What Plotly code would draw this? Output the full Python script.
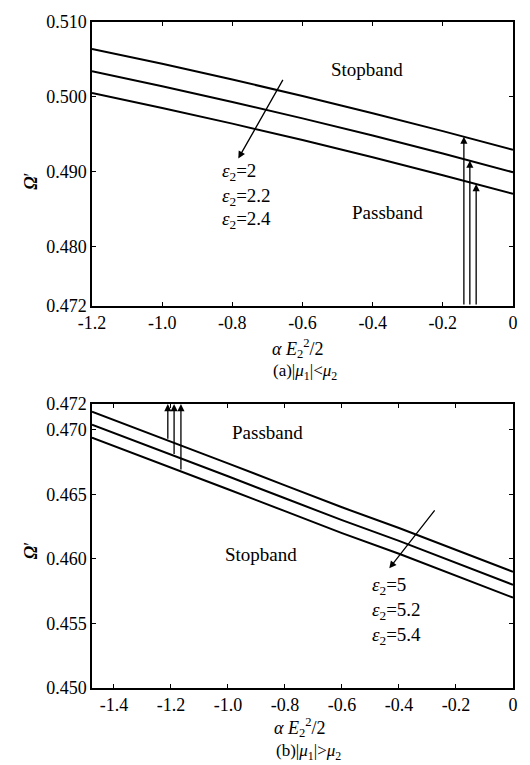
import numpy as np
import plotly.graph_objects as go

# ---------------- data ----------------
# Panel (a): |mu1| < mu2
xa = [-1.2, -1.0, -0.8, -0.6, -0.4, -0.2, 0.0]
ya_e20 = [0.5064, 0.5044, 0.5023, 0.5001, 0.4978, 0.4954, 0.4929]
ya_e22 = [0.5034, 0.5014, 0.4993, 0.4971, 0.4948, 0.4924, 0.4899]
ya_e24 = [0.5005, 0.4985, 0.4964, 0.4942, 0.4919, 0.4895, 0.4870]
a_arrow_x = [-0.140, -0.123, -0.105]          # vertical arrows (to each curve)
a_diag = [(-0.6535, 0.50245), (-0.783, 0.49173)]  # tail, head
a_xticks = [-1.2, -1.0, -0.8, -0.6, -0.4, -0.2, 0.0]
a_xticktext = ["-1.2", "-1.0", "-0.8", "-0.6", "-0.4", "-0.2", "0"]
a_yticks = [0.472, 0.480, 0.490, 0.500, 0.510]
a_yticktext = ["0.472", "0.480", "0.490", "0.500", "0.510"]

# Panel (b): |mu1| > mu2
xb = [-1.477, -1.2, -1.0, -0.8, -0.6, -0.4, -0.2, 0.0]
yb_e50 = [0.4714, 0.4691, 0.4674, 0.4657, 0.4640, 0.4624, 0.4607, 0.4590]
yb_e52 = [0.4704, 0.4681, 0.4664, 0.4647, 0.4630, 0.4614, 0.4597, 0.4580]
yb_e54 = [0.4694, 0.4671, 0.4654, 0.4637, 0.4620, 0.4604, 0.4587, 0.4570]
b_arrow_x = [-1.211, -1.189, -1.165]
b_diag = [(-0.2707, 0.46387), (-0.434, 0.45927)]
b_xticks = [-1.4, -1.2, -1.0, -0.8, -0.6, -0.4, -0.2, 0.0]
b_xticktext = ["-1.4", "-1.2", "-1.0", "-0.8", "-0.6", "-0.4", "-0.2", "0"]
b_yticks = [0.450, 0.455, 0.460, 0.465, 0.470, 0.472]
b_yticktext = ["0.450", "0.455", "0.460", "0.465", "0.470", "0.472"]

a_labels = ["<i>ε</i><sub>2</sub>=2", "<i>ε</i><sub>2</sub>=2.2", "<i>ε</i><sub>2</sub>=2.4"]
b_labels = ["<i>ε</i><sub>2</sub>=5", "<i>ε</i><sub>2</sub>=5.2", "<i>ε</i><sub>2</sub>=5.4"]

FONT = "Liberation Serif, Times New Roman, serif"
LINE = dict(color="black", width=2)

fig = go.Figure()
for ys in (ya_e20, ya_e22, ya_e24):
    fig.add_trace(go.Scatter(x=xa, y=ys, mode="lines", line=LINE, xaxis="x", yaxis="y",
                             showlegend=False, line_shape="spline"))
for ys in (yb_e50, yb_e52, yb_e54):
    fig.add_trace(go.Scatter(x=xb, y=ys, mode="lines", line=LINE, xaxis="x2", yaxis="y2",
                             showlegend=False))

ARW = dict(showarrow=True, arrowhead=2, arrowsize=1.1, arrowwidth=1.3, arrowcolor="black", text="")
ann = []
# vertical arrows panel (a): from bottom edge up to each curve
for xv, ys in zip(a_arrow_x, (ya_e20, ya_e22, ya_e24)):
    yv = float(np.interp(xv, xa, ys))
    ann.append(dict(x=xv, y=yv, ax=xv, ay=a_yticks[0], xref="x", yref="y", axref="x", ayref="y", **ARW))
# vertical arrows panel (b): from each curve up to top edge
for xv, ys in zip(b_arrow_x, (yb_e50, yb_e52, yb_e54)):
    yv = float(np.interp(xv, xb, ys))
    ann.append(dict(x=xv, y=b_yticks[-1], ax=xv, ay=yv, xref="x2", yref="y2", axref="x2", ayref="y2", **ARW))
# diagonal arrows
ann.append(dict(x=a_diag[1][0], y=a_diag[1][1], ax=a_diag[0][0], ay=a_diag[0][1],
                xref="x", yref="y", axref="x", ayref="y", **ARW))
ann.append(dict(x=b_diag[1][0], y=b_diag[1][1], ax=b_diag[0][0], ay=b_diag[0][1],
                xref="x2", yref="y2", axref="x2", ayref="y2", **ARW))

TF = dict(family=FONT, size=19, color="black")
# texts panel (a)
ann.append(dict(x=-0.417, y=0.50364, xref="x", yref="y", text="Stopband", showarrow=False, font=TF))
ann.append(dict(x=-0.358, y=0.48445, xref="x", yref="y", text="Passband", showarrow=False, font=TF))
for t, yv in zip(a_labels, [0.4899, 0.48657, 0.48352]):
    ann.append(dict(x=-0.834, y=yv, xref="x", yref="y", text=t, showarrow=False, font=TF,
                    xanchor="left"))
# texts panel (b)
ann.append(dict(x=-0.993, y=0.46978, xref="x2", yref="y2", text="Passband", showarrow=False,
                font=TF, xanchor="left"))
ann.append(dict(x=-1.0175, y=0.46035, xref="x2", yref="y2", text="Stopband", showarrow=False,
                font=TF, xanchor="left"))
for t, yv in zip(b_labels, [0.45789, 0.45598, 0.45406]):
    ann.append(dict(x=-0.5034, y=yv, xref="x2", yref="y2", text=t, showarrow=False, font=TF,
                    xanchor="left"))

# axis titles & captions (paper coords, pixel shifts below each panel)
CF = dict(family=FONT, size=18, color="black")
CF2 = dict(family=FONT, size=17, color="black")
xtitle = "<i>α E</i><sub>2</sub><sup>2</sup>/2"
cap_a = "(a)|<i>μ</i><sub>1</sub>|&lt;<i>μ</i><sub>2</sub>"
cap_b = "(b)|<i>μ</i><sub>1</sub>|&gt;<i>μ</i><sub>2</sub>"
ya0 = 0.5736
ann.append(dict(x=0.49, y=ya0, yanchor="top", yshift=-28, xref="paper", yref="paper",
                text=xtitle, showarrow=False, font=CF))
ann.append(dict(x=0.505, y=ya0, yanchor="top", yshift=-53, xref="paper", yref="paper",
                text=cap_a, showarrow=False, font=CF2))
ann.append(dict(x=0.495, y=0, yanchor="top", yshift=-25, xref="paper", yref="paper",
                text=xtitle, showarrow=False, font=CF))
ann.append(dict(x=0.515, y=0, yanchor="top", yshift=-51, xref="paper", yref="paper",
                text=cap_b, showarrow=False, font=CF2))
for yp in (0.776, 0.190):
    ann.append(dict(x=-0.173, y=yp, xref="paper", yref="paper", text="<b><i>Ω</i></b>′",
                    showarrow=False, textangle=-90, font=dict(family=FONT, size=18, color="black")))

axis_common = dict(showline=True, linecolor="black", linewidth=1.5, mirror="allticks",
                   ticks="inside", ticklen=4, tickcolor="black", showgrid=False, zeroline=False,
                   tickfont=dict(family=FONT, size=18, color="black"))

fig.update_layout(
    width=530, height=765,
    margin=dict(l=92, r=12, t=15, b=77),
    paper_bgcolor="white", plot_bgcolor="white",
    showlegend=False,
    xaxis=dict(domain=[0, 1], range=[-1.2, 0], anchor="y", tickvals=a_xticks,
               ticktext=a_xticktext, **axis_common),
    yaxis=dict(domain=[ya0, 1], range=[0.472, 0.510], anchor="x", tickvals=a_yticks,
               ticktext=a_yticktext, **axis_common),
    xaxis2=dict(domain=[0, 1], range=[-1.477, 0], anchor="y2", tickvals=b_xticks,
                ticktext=b_xticktext, **axis_common),
    yaxis2=dict(domain=[0, 0.4264], range=[0.450, 0.472], anchor="x2", tickvals=b_yticks,
                ticktext=b_yticktext, **axis_common),
    annotations=ann,
)

fig.write_html("out.html", config={"displayModeBar": False},
               post_script="document.body.style.margin='0px';document.body.style.overflow='hidden';")
